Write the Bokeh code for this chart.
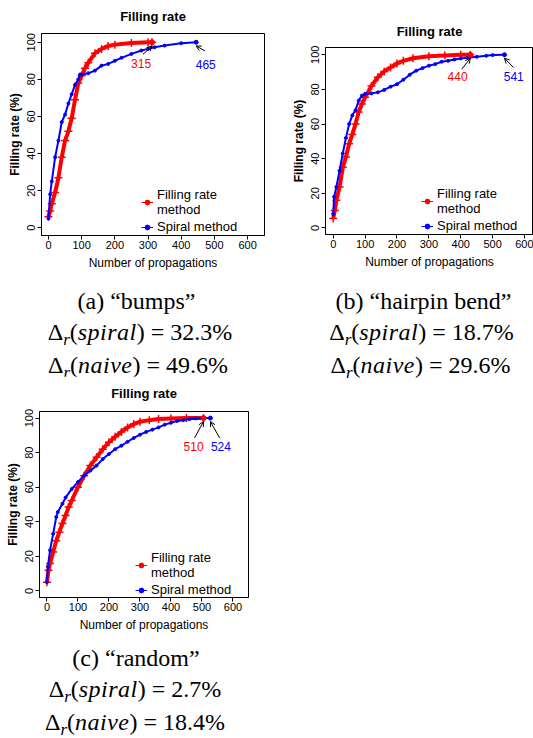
from bokeh.plotting import figure
from bokeh.layouts import column, row
from bokeh.models import Range1d, FixedTicker, Legend, LegendItem, Arrow, OpenHead, Div, Label
from bokeh.embed import file_html
from bokeh.resources import INLINE

# ---------------- data ----------------
titles = ["Filling rate", "Filling rate", "Filling rate"]
series_names = ["Filling rate\nmethod", "Spiral method"]
x_ticks = [0, 100, 200, 300, 400, 500, 600]
y_ticks = [0, 20, 40, 60, 80, 100]

# (a) "bumps"
a_fill_x = [0, 5, 10, 20, 30, 40, 50, 60, 70, 80, 90, 100, 110, 120, 140, 160, 180, 200, 250, 300, 312]
a_fill_y = [6, 9, 13, 19, 27, 38, 47, 52, 59, 69, 78, 82, 86, 89, 94, 96.4, 98, 98.7, 99.6, 100, 100]
a_spiral_x = [0, 5, 10, 20, 30, 40, 50, 60, 70, 80, 90, 95, 100, 120, 140, 160, 180, 200, 220, 250,
              280, 300, 320, 350, 400, 445]
a_spiral_y = [5, 18, 25, 38, 47, 57, 61, 67, 72, 77, 80, 82.6, 82.6, 83.3, 84.7, 87.4, 88.3, 90, 91.6, 93.7,
              95.5, 96.4, 97.3, 98.2, 99.5, 100]
a_ends = ["315", "465"]

# (b) "hairpin bend"
b_fill_x = [0, 5, 10, 20, 30, 40, 50, 60, 70, 80, 90, 100, 120, 140, 160, 180, 200, 220, 250, 300, 350, 400, 430]
b_fill_y = [5.4, 10, 16, 23.6, 35, 41, 48.6, 54, 60, 67, 71.6, 75.4, 82, 87, 90.4, 92.7, 95, 96.5, 98, 99.2,
            99.6, 100, 100]
b_spiral_x = [0, 3, 10, 20, 30, 40, 50, 60, 70, 80, 90, 100, 120, 140, 160, 180, 200, 220, 240, 260, 280, 300,
              320, 340, 360, 380, 400, 420, 450, 480, 500, 537]
b_spiral_y = [8, 18, 23.6, 33, 43, 52, 60, 65, 68, 73.5, 76.4, 77.4, 77.7, 78.3, 79.7, 81.6, 83, 85.6, 88.5,
              90.8, 92.3, 93.7, 94.6, 96, 96.5, 97.3, 97.9, 98.3, 98.8, 99.4, 99.8, 100]
b_ends = ["440", "541"]

# (c) "random"
c_fill_x = [0, 5, 10, 20, 30, 40, 50, 60, 70, 80, 100, 120, 140, 160, 180, 200, 220, 240, 260, 280, 300, 330,
            360, 400, 450, 505]
c_fill_y = [5, 12, 15.8, 22.5, 29, 34, 39, 43.6, 48.5, 52.3, 60, 66.7, 72.5, 77.3, 82, 86, 89.2, 92, 94.6, 96.5,
            97.9, 98.8, 99.4, 99.8, 100, 100]
c_spiral_x = [0, 3, 10, 20, 30, 35, 50, 60, 80, 100, 120, 140, 160, 180, 200, 220, 240, 260, 280, 300, 320, 340,
              360, 380, 400, 420, 440, 460, 480, 527]
c_spiral_y = [5, 14, 23.5, 33, 42.7, 45.6, 50.4, 54, 59, 63, 66.7, 69.6, 72.5, 76.3, 79.2, 82, 84, 86.3, 88.5,
              90.4, 92, 93.3, 94.6, 96.2, 97.3, 98.3, 98.8, 99.4, 99.8, 100]
c_ends = ["510", "524"]

captions = [
    ["(a) “bumps”", "spiral", "32.3%", "naive", "49.6%"],
    ["(b) “hairpin bend”", "spiral", "18.7%", "naive", "29.6%"],
    ["(c) “random”", "spiral", "2.7%", "naive", "18.4%"],
]

# ---------------- styling / layout ----------------
RED = "#ff0000"
BLUE = "#0000ff"
SANS = "Liberation Sans"
SERIF = "'Liberation Serif', 'DejaVu Serif', serif"


def make_panel(title, fx, fy, sx, sy, ends, cfg):
    p = figure(width=cfg["w"], height=cfg["h"],
               x_range=Range1d(*cfg["xr"]), y_range=Range1d(*cfg["yr"]),
               output_backend="svg", toolbar_location=None,
               min_border_left=cfg["bl"], min_border_right=cfg["br"],
               min_border_top=cfg["bt"], min_border_bottom=cfg["bb"],
               title=title, margin=0, frame_align=False)
    p.title.align = "center"
    p.title.vertical_align = "top"
    p.title.text_font = SANS
    p.title.text_font_size = "13px"
    p.title.text_font_style = "bold"
    p.title.text_color = "black"
    p.title.standoff = cfg["ts"]
    p.background_fill_color = "white"
    p.border_fill_color = "white"
    p.outline_line_color = "black"
    p.outline_line_width = 1
    p.grid.visible = False

    p.xaxis.ticker = FixedTicker(ticks=x_ticks)
    p.yaxis.ticker = FixedTicker(ticks=y_ticks)
    for ax in (p.xaxis[0], p.yaxis[0]):
        ax.axis_line_color = "black"
        ax.major_tick_line_color = "black"
        ax.major_tick_in = 0
        ax.major_tick_out = 4
        ax.minor_tick_line_color = None
        ax.major_label_text_font = SANS
        ax.major_label_text_font_size = "11px"
        ax.major_label_text_color = "black"
        ax.axis_label_text_font = SANS
        ax.axis_label_text_font_size = "12px"
        ax.axis_label_text_color = "black"
    p.xaxis.axis_label = "Number of propagations"
    p.xaxis.axis_label_text_font_style = "normal"
    p.xaxis.major_label_standoff = 1
    p.xaxis.axis_label_standoff = 4
    p.yaxis.axis_label = "Filling rate (%)"
    p.yaxis.axis_label_text_font_style = "bold"
    p.yaxis.major_label_orientation = "vertical"
    p.yaxis.major_label_standoff = 2
    p.yaxis.axis_label_standoff = 3

    # series
    p.line(fx, fy, line_color=RED, line_width=4)
    p.scatter(fx, fy, marker="cross", size=8, line_color=RED, line_width=1.5)
    p.line(sx, sy, line_color=BLUE, line_width=2)
    p.scatter(sx, sy, marker="circle", size=3, fill_color=BLUE, line_color=BLUE)

    # legend proxies (R style: line with a dot), sitting on each series' last point
    lr = p.line(fx[-1:], fy[-1:], line_color=RED, line_width=1)
    mr = p.scatter(fx[-1:], fy[-1:], marker="circle", size=5, fill_color=RED, line_color=RED)
    lb = p.line(sx[-1:], sy[-1:], line_color=BLUE, line_width=1)
    mb = p.scatter(sx[-1:], sy[-1:], marker="circle", size=4, fill_color=BLUE, line_color=BLUE)
    leg = Legend(items=[LegendItem(label=series_names[0], renderers=[lr, mr]),
                        LegendItem(label=series_names[1], renderers=[lb, mb])],
                 location=cfg["leg"], border_line_alpha=0, background_fill_alpha=0,
                 label_text_font=SANS, label_text_font_size="13px", label_text_color="black",
                 label_text_line_height=1.35,
                 glyph_width=12, glyph_height=14, label_standoff=4, spacing=2, padding=0, margin=0,
                 label_height=15)
    p.add_layout(leg)

    # end annotations
    fx_end, fy_end = fx[-1], fy[-1]
    sx_end, sy_end = sx[-1], sy[-1]
    for (ex, ey), (dx, dy), (lx, ly), txt, col in [
        ((fx_end, fy_end), cfg["fa"], cfg["fl"], ends[0], RED),
        ((sx_end, sy_end), cfg["sa"], cfg["sl"], ends[1], BLUE),
    ]:
        p.add_layout(Arrow(x_start=ex + dx, y_start=ey + dy, x_end=ex, y_end=ey - 2,
                           line_color="black", line_width=1,
                           end=OpenHead(size=5, line_color="black", line_width=1)))
        p.add_layout(Label(x=ex + lx, y=ey + ly, text=txt, text_color=col, text_font=SANS,
                           text_font_size="12px", text_align="center", text_baseline="middle"))
    return p


cfg_a = dict(w=270, h=274, xr=(-21, 651), yr=(-4.15, 104.7), bl=41, br=6, bt=33, bb=39, ts=16,
             leg=(100, 1), fa=(-27, -6.5), fl=(-33, -11.7), sa=(27, -4.7), sl=(29, -12.2))
cfg_b = dict(w=263, h=274, xr=(-24.1, 628), yr=(-3.8, 104.2), bl=55, br=0, bt=47, bb=40, ts=13,
             leg=(96, 1), fa=(-27, -8.3), fl=(-40, -12.7), sa=(28, -7.3), sl=(29, -12.7))
cfg_c = dict(w=270, h=260, xr=(-24, 650), yr=(-3.8, 103.8), bl=39, br=22, bt=35, bb=39, ts=18,
             leg=(96, 0), fa=(-29, -11.5), fl=(-32, -16.2), sa=(30, -11.5), sl=(34, -16.2))

fa = make_panel(titles[0], a_fill_x, a_fill_y, a_spiral_x, a_spiral_y, a_ends, cfg_a)
fb = make_panel(titles[1], b_fill_x, b_fill_y, b_spiral_x, b_spiral_y, b_ends, cfg_b)
fc = make_panel(titles[2], c_fill_x, c_fill_y, c_spiral_x, c_spiral_y, c_ends, cfg_c)


def line_div(content, pad):
    return '<div style="font-family:%s;%s">%s</div>' % (SERIF, pad, content)


def math_text(name, val):
    return ('&Delta;<span style="font-style:italic;font-size:17px;position:relative;top:5px">r</span>'
            '(<i style="letter-spacing:0.5px">%s</i>) = %s' % (name, val))


def caption_html(cap, width, line_h, pad_top, pads):
    return ('<div style="width:%dpx;font-family:%s;font-size:24px;line-height:%dpx;padding-top:%dpx;'
            'text-align:center;color:black;white-space:nowrap">' % (width, SERIF, line_h, pad_top)
            + line_div(cap[0], pads[0])
            + line_div(math_text(cap[1], cap[2]), pads[1])
            + line_div(math_text(cap[3], cap[4]), pads[2])
            + '</div>')


div_a = Div(text=caption_html(captions[0], 270, 31, 12,
                              ["padding-left:3px", "padding-left:10px", "padding-left:6px"]),
            width=270, height=102, margin=0)
div_b = Div(text=caption_html(captions[1], 263, 31, 12,
                              ["padding-left:44px", "padding-left:40px", "padding-left:38px"]),
            width=263, height=102, margin=0)
div_c = Div(text=caption_html(captions[2], 270, 31, 7,
                              ["padding-left:2px", "", ""]),
            width=270, height=102, margin=0)

layout = column(row(fa, fb, spacing=0), row(div_a, div_b, spacing=0), fc, div_c, spacing=0)

open("out.html", "w").write(file_html(layout, INLINE))
